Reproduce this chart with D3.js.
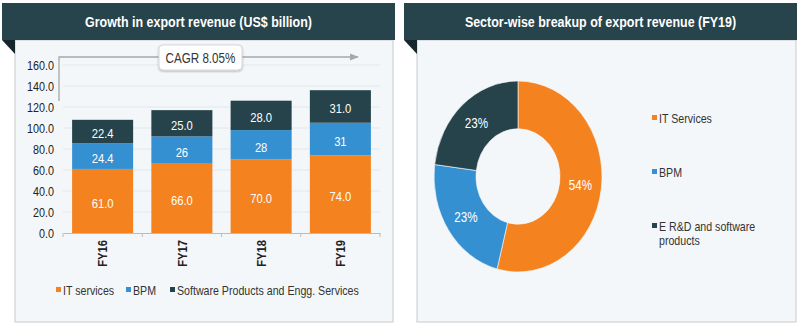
<!DOCTYPE html>
<html>
<head>
<meta charset="utf-8">
<script src="https://cdn.jsdelivr.net/npm/d3@7"></script>
<style>
  body{margin:0;background:#fff;}
  svg text{font-family:"Liberation Sans",Arial,sans-serif;}
</style>
</head>
<body>
<svg id="chart" width="799" height="324"></svg>
<script>
// data
const years=["FY16","FY17","FY18","FY19"]
const itServices=[61.0,66.0,70.0,74.0]
const bpm=[24.4,26,28,31]
const software=[22.4,25.0,28.0,31.0]
const barLabels=[["61.0","66.0","70.0","74.0"],["24.4","26","28","31"],["22.4","25.0","28.0","31.0"]]
const barSeries=["IT services","BPM","Software Products and Engg. Services"]
const yTicks=[0,20,40,60,80,100,120,140,160]
const cagr="CAGR 8.05%"
const pieCats=[["IT Services"],["BPM"],["E R&D and software","products"]]
const pieShare=[54,23,23]

const colors=["#f4821f","#3590d2","#26434b"]
const svg=d3.select("#chart")

// panel frame: header + light body + folded corner
const panel=function(x0,hx1,bx0,bx1,title){
  svg.append("rect").attr("x",bx0).attr("y",40).attr("width",bx1-bx0).attr("height",282)
    .attr("fill","#f4f7f9").attr("stroke","#c5cacd")
  svg.append("path").attr("d",`M${x0},40L${bx0},40L${bx0},54Z`).attr("fill","#15262c")
  svg.append("rect").attr("x",x0).attr("y",3).attr("width",hx1-x0).attr("height",37).attr("fill","#27434b")
  svg.append("text").attr("x",(x0+hx1)/2).attr("y",26.5).attr("text-anchor","middle")
    .attr("fill","#fff").attr("font-size",15).attr("font-weight","bold").text(title)
}
panel(2,395,15,393,"Growth in export revenue (US$ billion)")
panel(404,797,417,796,"Sector-wise breakup of export revenue (FY19)")

// ---- stacked bars
const x=d3.scaleBand().domain(years).range([63,380]).paddingInner(0.23).paddingOuter(0.115)
const y=d3.scaleLinear().domain([0,160]).range([233,65])

svg.append("g").selectAll("line").data(yTicks.slice(1)).join("line")
  .attr("x1",63).attr("x2",380).attr("y1",d=>y(d)).attr("y2",d=>y(d))
  .attr("stroke","#e3e7ea").attr("stroke-width",1)

const yAx=svg.append("g").attr("transform","translate(63,0)")
  .call(d3.axisLeft(y).tickValues(yTicks).tickFormat(d3.format(".1f")).tickSize(0).tickPadding(9))
yAx.select(".domain").remove()
yAx.selectAll("text").attr("font-size",13).attr("fill","#222")

const xAx=svg.append("g").attr("transform","translate(0,233)")
  .call(d3.axisBottom(x).tickSize(0))
xAx.select(".domain").attr("stroke","#bbb")
xAx.selectAll("text").attr("font-size",13.5).attr("font-weight","bold").attr("fill","#222")
  .attr("transform","rotate(-90)").attr("text-anchor","end").attr("x",-7).attr("y",0).attr("dy","0.35em")
// tick marks at band edges
const edges=years.map(d=>x(d)-x.step()*x.paddingInner()/2).concat([380])
edges[0]=63
svg.append("g").selectAll("line").data(edges).join("line")
  .attr("x1",d=>d).attr("x2",d=>d).attr("y1",233).attr("y2",237).attr("stroke","#bbb")

const table=years.map((yr,i)=>({year:yr,it:itServices[i],bpm:bpm[i],sw:software[i]}))
const stacked=d3.stack().keys(["it","bpm","sw"])(table)
stacked.forEach((s,k)=>{
  const g=svg.append("g")
  g.selectAll("rect").data(s).join("rect")
    .attr("x",d=>x(d.data.year)).attr("width",x.bandwidth())
    .attr("y",d=>y(d[1])).attr("height",d=>y(d[0])-y(d[1]))
    .attr("fill",colors[k])
  g.selectAll("text").data(s).join("text")
    .attr("x",d=>x(d.data.year)+x.bandwidth()/2).attr("y",d=>(y(d[0])+y(d[1]))/2+2)
    .attr("dy","0.35em").attr("text-anchor","middle").attr("fill","#fff").attr("font-size",13.5)
    .text((d,i)=>barLabels[k][i])
})

// CAGR arrow
const defs=svg.append("defs")
defs.append("marker").attr("id","arr").attr("viewBox","0 0 10 10").attr("refX",9).attr("refY",5)
  .attr("markerWidth",7).attr("markerHeight",7).attr("orient","auto")
  .append("path").attr("d","M0,1L10,5L0,9Z").attr("fill","#a8a8a8")
defs.append("filter").attr("id","sh").append("feDropShadow")
  .attr("dx",0).attr("dy",1).attr("stdDeviation",1.2).attr("flood-opacity",0.3)
svg.append("path").attr("d","M59,101L59,57L358,57").attr("fill","none")
  .attr("stroke","#a8a8a8").attr("stroke-width",1.3).attr("marker-end","url(#arr)")
svg.append("rect").attr("x",159).attr("y",45).attr("width",83).attr("height",25).attr("rx",4)
  .attr("fill","#fff").attr("stroke","#d8d8d8").attr("filter","url(#sh)")
svg.append("text").attr("x",200.5).attr("y",62.5).attr("text-anchor","middle")
  .attr("font-size",14).attr("fill","#333").text(cagr)

// bar legend
const legX=[56,126,170]
barSeries.forEach((s,i)=>{
  svg.append("rect").attr("x",legX[i]).attr("y",287).attr("width",5).attr("height",5).attr("fill",colors[i])
  svg.append("text").attr("x",legX[i]+7).attr("y",294.5).attr("font-size",12.8).attr("fill","#333").text(s)
})

// ---- donut
const cx=518,cy=176.5,rx=84,ry=95.5
const pie=d3.pie().sort(null)(pieShare)
const arc=d3.arc().innerRadius(rx*0.5).outerRadius(rx)
const dg=svg.append("g").attr("transform",`translate(${cx},${cy}) scale(1,${ry/rx})`)
dg.selectAll("path").data(pie).join("path").attr("d",arc).attr("fill",(d,i)=>colors[i])
  .attr("stroke","#f4f7f9").attr("stroke-width",0.6)
svg.append("g").selectAll("text").data(pie).join("text")
  .attr("x",d=>cx+arc.centroid(d)[0]).attr("y",d=>cy+arc.centroid(d)[1]*ry/rx)
  .attr("dy","0.35em").attr("text-anchor","middle").attr("fill","#fff").attr("font-size",14)
  .text(d=>d.data+"%")

// donut legend (last entry wraps onto two lines)
const pLegY=[118,172,226]
pieCats.forEach((lines,i)=>{
  svg.append("rect").attr("x",652).attr("y",pLegY[i]-3).attr("width",5).attr("height",5).attr("fill",colors[i])
  lines.forEach((ln,j)=>{
    svg.append("text").attr("x",659).attr("y",pLegY[i]+4.5+j*14.5)
      .attr("font-size",12.8).attr("fill","#333").text(ln)
  })
})

// the source picture is squeezed sideways, so squeeze the glyphs too
const k=0.83
svg.selectAll("text").each(function(){
  this.setAttribute("textLength",this.getComputedTextLength()*k)
  this.setAttribute("lengthAdjust","spacingAndGlyphs")
})
</script>
</body>
</html>
